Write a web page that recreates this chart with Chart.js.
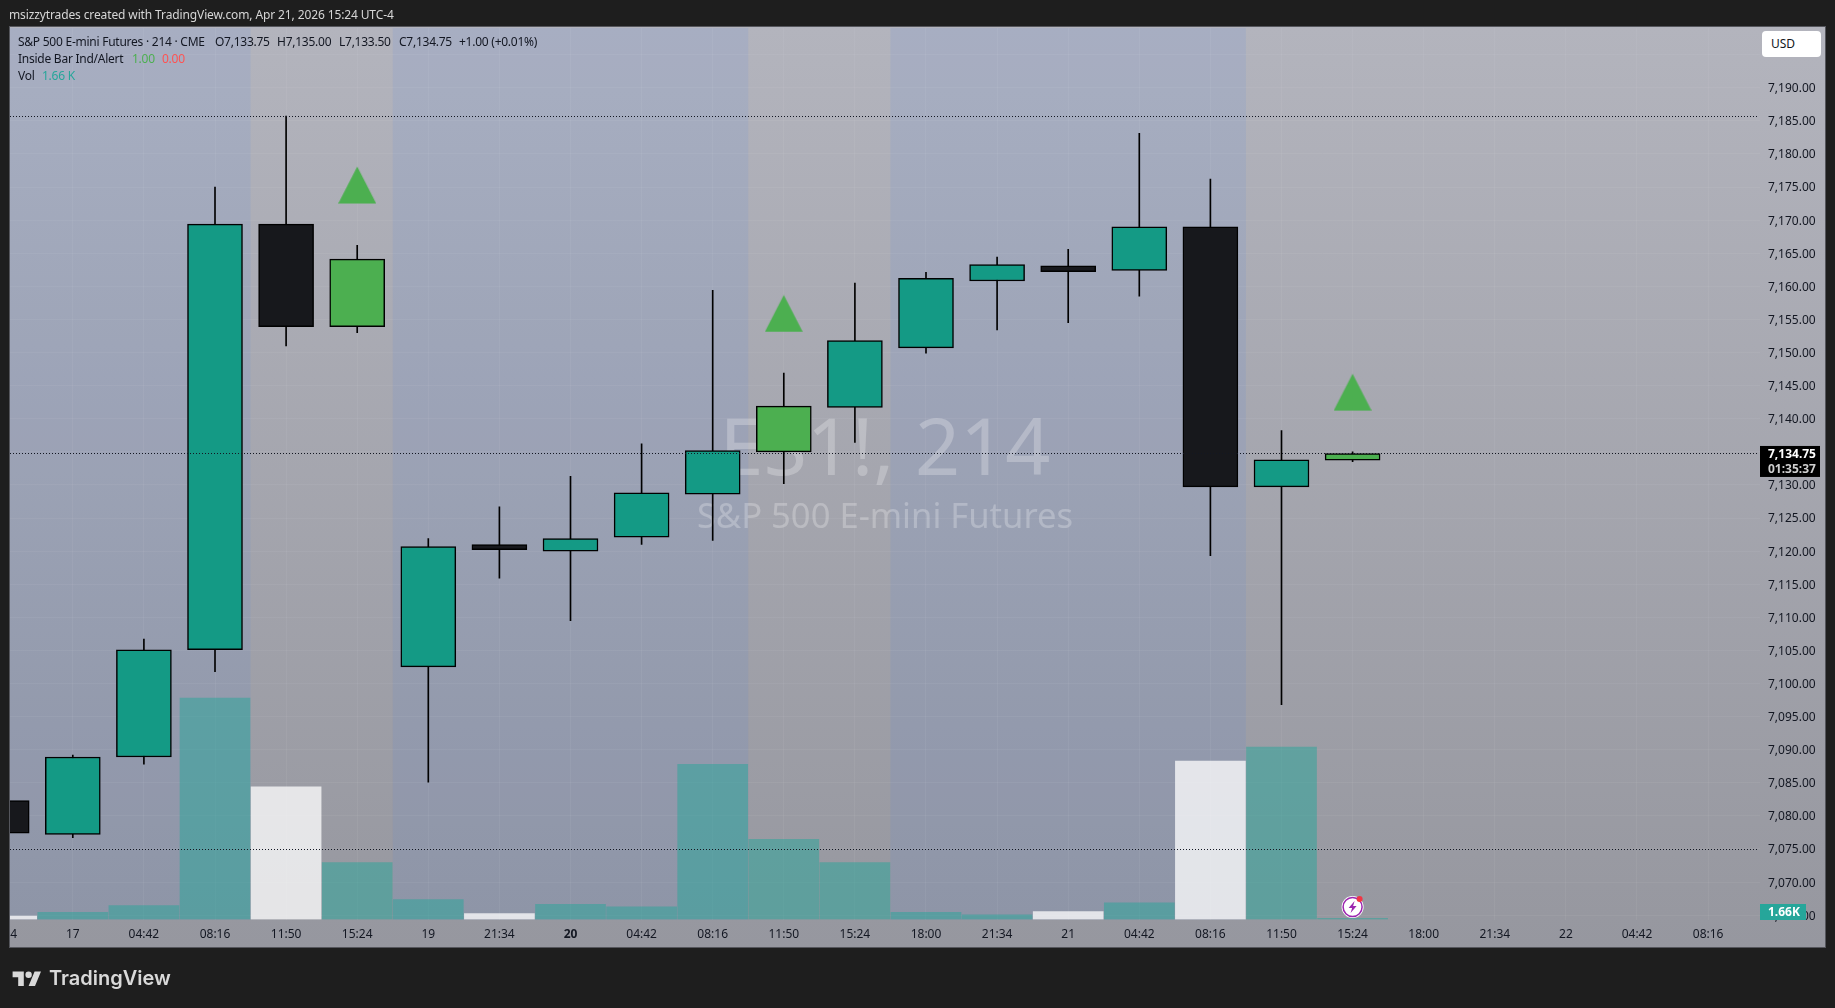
<!DOCTYPE html>
<html>
<head>
<meta charset="utf-8">
<title>ES1! 214</title>
<script src="https://cdn.jsdelivr.net/npm/chart.js@4"></script>
<style>
  html, body { margin: 0; padding: 0; background: #1e1e1e; overflow: hidden; }
  body { width: 1835px; height: 1008px; position: relative; font-family: "Noto Sans", sans-serif; }
  #myChart { position: absolute; left: 0; top: 0; }
  .line { position: absolute; white-space: nowrap; font-size: 12px; line-height: 16px; color: #131722; letter-spacing: -0.25px; }
  .green { color: #4caf50; }
  .red { color: #ff5252; }
  .teal { color: #26a69a; }
  #credit { left: 9px; top: 7px; color: #d6d6d6; letter-spacing: -0.12px; }
  #usd { position: absolute; left: 1762px; top: 31px; width: 59px; height: 26px; box-sizing: border-box; padding-left: 9px;
    background: #fff; border-radius: 4px; font-size: 12px; line-height: 26px; color: #131722; }
  #logo { position: absolute; left: 12px; top: 966px; display: flex; align-items: center; gap: 7px; color: #d9d9d9;
    font-family: Inter, sans-serif; font-weight: 600; font-size: 20px; line-height: 24px; }
</style>
</head>
<body>
<canvas id="myChart" width="1835" height="1008"></canvas>
<div class="line" id="credit">msizzytrades created with TradingView.com, Apr 21, 2026 15:24 UTC-4</div>
<div class="line" style="left:18px;top:34px">S&amp;P 500 E-mini Futures · 214 · CME</div>
<div class="line" style="left:215px;top:34px">O7,133.75</div>
<div class="line" style="left:277px;top:34px">H7,135.00</div>
<div class="line" style="left:339px;top:34px">L7,133.50</div>
<div class="line" style="left:399px;top:34px">C7,134.75</div>
<div class="line" style="left:459px;top:34px">+1.00 (+0.01%)</div>
<div class="line" style="left:18px;top:51px">Inside Bar Ind/Alert</div>
<div class="line green" style="left:132px;top:51px">1.00</div>
<div class="line red" style="left:162px;top:51px">0.00</div>
<div class="line" style="left:18px;top:68px">Vol</div>
<div class="line teal" style="left:42px;top:68px">1.66 K</div>
<div id="usd">USD</div>
<div id="logo">
  <svg width="30" height="16" viewBox="0 2 36 20" fill="#d9d9d9"><path d="M14 22H7V11H0V4h14v18zM28 22h-8l7.5-18h8L28 22z"/><circle cx="20" cy="8" r="4"/></svg>
  <span>TradingView</span>
</div>
<script>
// candles, index 0 is the bar cut off by the left edge
const opens  = [7082.3, 7077.2, 7088.9, 7105.1, 7169.4, 7153.9, 7102.5, 7121.0, 7120.0, 7122.1, 7128.6, 7135.0, 7141.7, 7150.7, 7160.8, 7163.1, 7162.4, 7169.0, 7129.7, 7133.75];
const highs  = [7084.0, 7089.2, 7106.7, 7175.0, 7185.7, 7166.2, 7121.9, 7126.7, 7131.3, 7136.2, 7159.4, 7146.9, 7160.5, 7162.1, 7164.4, 7165.6, 7183.1, 7176.2, 7138.2, 7135.00];
const lows   = [7076.0, 7076.7, 7087.8, 7101.8, 7151.0, 7153.0, 7085.1, 7115.9, 7109.5, 7121.0, 7121.6, 7130.2, 7136.4, 7149.9, 7153.4, 7154.5, 7158.5, 7119.3, 7096.8, 7133.50];
const closes = [7077.4, 7088.9, 7105.1, 7169.4, 7153.9, 7164.1, 7120.7, 7120.2, 7121.9, 7128.8, 7135.2, 7141.9, 7151.8, 7161.2, 7163.3, 7162.2, 7169.0, 7129.7, 7133.8, 7134.75];
const volumes = [5, 11, 21, 334, 200, 86, 30, 9, 23, 19, 234, 121, 86, 11, 7, 12, 25, 239, 260, 1.66];
// bars flagged by the inside bar indicator
const insideBars = [5, 11, 19];
const arrowValues = [7175.3, 7155.9, 7144];

const timeLabels = ['21:34', '17', '04:42', '08:16', '11:50', '15:24', '19', '21:34', '20', '04:42', '08:16', '11:50', '15:24', '18:00', '21:34', '21', '04:42', '08:16', '11:50', '15:24', '18:00', '21:34', '22', '04:42', '08:16'];
const boldLabels = ['20'];

// session stretches (bar index)
const sessionStarts = [-1, 5.5, 12.5];
const sessionEnds = [3.5, 10.5, 17.5];
const priceLines = [7185.75, 7075];
const lastPrice = 7134.75;
const countdown = '01:35:37';
const lastVolume = '1.66K';

const teal = '#149a85';
const green = '#4caf50';
const black = '#17181c';

function candleColor(i) {
  if (insideBars.includes(i)) return green;
  return closes[i] >= opens[i] ? teal : black;
}

function volumeColor(i) {
  return closes[i] >= opens[i] ? 'rgba(38,166,154,0.5)' : 'rgba(255,255,255,0.75)';
}

function points(a, b) {
  return a.map((v, i) => ({x: i, y: b ? [v, b[i]] : v}));
}

// triangle marker
const arrowImg = document.createElement('canvas');
arrowImg.width = 38;
arrowImg.height = 38;
const arrowCtx = arrowImg.getContext('2d');
arrowCtx.fillStyle = green;
arrowCtx.beginPath();
arrowCtx.moveTo(19, 0.5);
arrowCtx.lineTo(38, 37.5);
arrowCtx.lineTo(0, 37.5);
arrowCtx.closePath();
arrowCtx.fill();

const backdrop = {
  id: 'backdrop',
  beforeDraw(chart) {
    const {ctx, chartArea, scales} = chart;
    const grad = ctx.createLinearGradient(0, 27, 0, 947);
    grad.addColorStop(0, '#b3b4bd');
    grad.addColorStop(1, '#96979f');
    ctx.save();
    ctx.fillStyle = grad;
    ctx.fillRect(10, 27, 1815, 920);
    ctx.fillStyle = 'rgba(60,120,240,0.09)';
    sessionStarts.forEach((start, i) => {
      const left = Math.max(scales.x.getPixelForValue(start), chartArea.left);
      const right = scales.x.getPixelForValue(sessionEnds[i]);
      ctx.fillRect(left, chartArea.top, right - left, chartArea.height);
    });
    ctx.restore();
  },
  beforeDatasetsDraw(chart) {
    const {ctx} = chart;
    ctx.save();
    ctx.fillStyle = 'rgba(255,255,255,0.25)';
    ctx.textAlign = 'center';
    ctx.textBaseline = 'alphabetic';
    ctx.font = '79px "Noto Sans"';
    ctx.fillText('ES1!, 214', 885, 475);
    ctx.font = '34.6px "Noto Sans"';
    ctx.fillText('S&P 500 E-mini Futures', 885, 528);
    ctx.restore();
  },
  afterDraw(chart) {
    const {ctx, chartArea, scales} = chart;
    ctx.save();
    // dotted price lines
    ctx.strokeStyle = '#131722';
    ctx.lineWidth = 1;
    ctx.setLineDash([1, 2]);
    priceLines.concat(lastPrice).forEach(p => {
      const y = Math.round(scales.y.getPixelForValue(p)) + 0.5;
      ctx.beginPath();
      ctx.moveTo(chartArea.left, y);
      ctx.lineTo(chartArea.right - 3, y);
      ctx.stroke();
    });
    ctx.setLineDash([]);

    // last price tag
    const py = scales.y.getPixelForValue(lastPrice);
    ctx.fillStyle = '#000';
    ctx.fillRect(1760, py - 7.5, 60, 31);
    ctx.textAlign = 'left';
    ctx.textBaseline = 'middle';
    ctx.font = 'bold 12px "Noto Sans"';
    ctx.fillStyle = '#fff';
    ctx.fillText(lastPrice.toLocaleString('en-US', {minimumFractionDigits: 2}), 1768, py + 1);
    ctx.fillStyle = '#cfcfcf';
    ctx.fillText(countdown, 1768, py + 16.5);

    // volume tag
    ctx.fillStyle = '#26a69a';
    ctx.fillRect(1760, chartArea.bottom - 15.5, 46, 16);
    ctx.fillStyle = '#fff';
    ctx.fillText(lastVolume, 1768, chartArea.bottom - 7);

    // alert icon over the last bar
    const ix = scales.x.getPixelForValue(closes.length - 1);
    const iy = chartArea.bottom - 12.5;
    ctx.fillStyle = '#fff';
    ctx.beginPath();
    ctx.arc(ix, iy, 11, 0, Math.PI * 2);
    ctx.fill();
    ctx.strokeStyle = '#9c27b0';
    ctx.lineWidth = 1.5;
    ctx.beginPath();
    ctx.arc(ix, iy, 9.5, 0, Math.PI * 2);
    ctx.stroke();
    ctx.fillStyle = '#9c27b0';
    ctx.beginPath();
    ctx.moveTo(ix + 2, iy - 6);
    ctx.lineTo(ix - 4, iy + 1);
    ctx.lineTo(ix - 0.5, iy + 1);
    ctx.lineTo(ix - 2, iy + 6);
    ctx.lineTo(ix + 4, iy - 1);
    ctx.lineTo(ix + 0.5, iy - 1);
    ctx.closePath();
    ctx.fill();
    ctx.fillStyle = '#f23645';
    ctx.beginPath();
    ctx.arc(ix + 7, iy - 8, 3, 0, Math.PI * 2);
    ctx.fill();

    // the cut off label stops at the frame, then the frame itself
    ctx.fillStyle = '#1e1e1e';
    ctx.fillRect(0, 27, 10, 921);
    ctx.strokeStyle = '#55565c';
    ctx.lineWidth = 1;
    ctx.strokeRect(9.5, 26.5, 1816, 921);
    ctx.restore();
  }
};

new Chart(document.getElementById('myChart'), {
  type: 'bar',
  plugins: [backdrop],
  data: {
    datasets: [
      {
        label: 'Vol',
        data: points(volumes),
        yAxisID: 'y2',
        order: 3,
        grouped: false,
        barThickness: 70,
        backgroundColor: volumes.map((v, i) => volumeColor(i))
      },
      {
        label: 'Wick',
        data: points(lows, highs),
        order: 2,
        grouped: false,
        barThickness: 1,
        backgroundColor: '#000'
      },
      {
        label: 'ES1!',
        data: points(opens, closes),
        order: 1,
        grouped: false,
        barThickness: 55,
        borderWidth: 1.5,
        borderSkipped: false,
        borderColor: '#000',
        backgroundColor: opens.map((v, i) => candleColor(i))
      },
      {
        type: 'scatter',
        label: 'Inside Bar',
        data: insideBars.map((b, i) => ({x: b, y: arrowValues[i]})),
        order: 0,
        pointStyle: arrowImg
      }
    ]
  },
  options: {
    responsive: false,
    animation: false,
    events: [],
    font: {family: '"Noto Sans"'},
    layout: {autoPadding: false, padding: {left: 10, right: 10, top: 28, bottom: 61}},
    plugins: {legend: {display: false}, tooltip: {enabled: false}},
    scales: {
      x: {
        type: 'linear',
        offset: false,
        min: 0.1167,
        max: 24.73,
        afterFit(scale) {
          scale.height = 27.5;
          scale.paddingLeft = 0;
          scale.paddingRight = 0;
        },
        afterBuildTicks(scale) { scale.ticks = timeLabels.map((t, i) => ({value: i})); },
        border: {display: false},
        grid: {color: 'rgba(255,255,255,0.05)', drawTicks: false, offset: false},
        ticks: {
          autoSkip: false,
          maxRotation: 0,
          padding: 8,
          color: '#131722',
          font: ctx => ({family: '"Noto Sans"', size: 12, weight: boldLabels.includes(timeLabels[ctx.index]) ? 'bold' : 'normal'}),
          callback: (v, i) => timeLabels[i]
        }
      },
      y: {
        position: 'right',
        min: 7064.35,
        max: 7199.02,
        afterFit(scale) {
          scale.width = 65;
          scale.paddingTop = 0;
          scale.paddingBottom = 0;
        },
        border: {display: false},
        grid: {color: 'rgba(255,255,255,0.05)', drawTicks: false},
        ticks: {
          stepSize: 5,
          includeBounds: false,
          padding: 8,
          labelOffset: 1,
          color: '#131722',
          font: {family: '"Noto Sans"', size: 12},
          callback: v => v > 7190 ? '' : v.toLocaleString('en-US', {minimumFractionDigits: 2})
        }
      },
      y2: {display: false, min: 0, max: 1345}
    }
  }
});
</script>
</body>
</html>
